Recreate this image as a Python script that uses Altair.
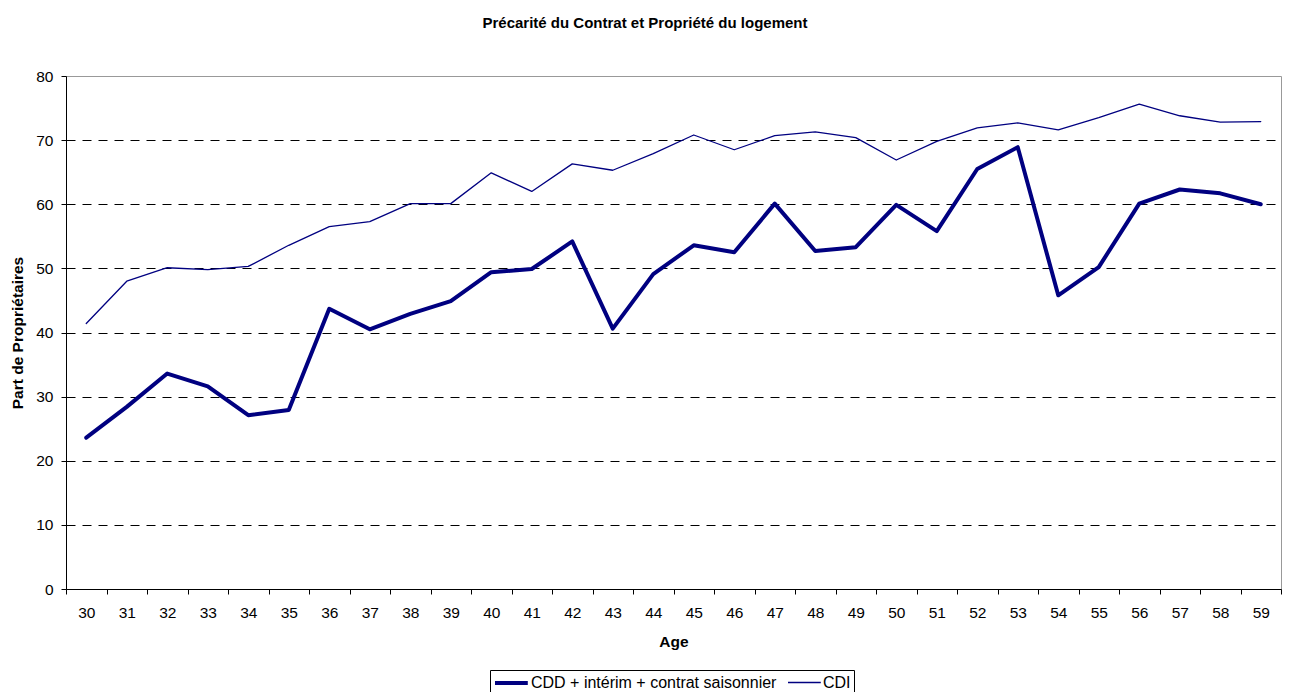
import altair as alt
import pandas as pd

ages = [30, 31, 32, 33, 34, 35, 36, 37, 38, 39,
        40, 41, 42, 43, 44, 45, 46, 47, 48, 49,
        50, 51, 52, 53, 54, 55, 56, 57, 58, 59]
cdd = [23.6, 28.4, 33.6, 31.6, 27.1, 27.9, 43.7, 40.5, 42.9, 44.9,
       49.4, 49.9, 54.2, 40.6, 49.1, 53.6, 52.5, 60.1, 52.7, 53.3,
       59.9, 55.8, 65.5, 68.9, 45.8, 50.2, 60.1, 62.3, 61.7, 60.0]
cdi = [41.4, 48.0, 50.1, 49.8, 50.3, 53.6, 56.5, 57.3, 60.1, 60.1,
       64.9, 62.0, 66.3, 65.3, 67.9, 70.8, 68.5, 70.7, 71.3, 70.4,
       66.9, 69.8, 71.9, 72.7, 71.6, 73.5, 75.6, 73.8, 72.8, 72.9]
series_labels = ["CDD + intérim + contrat saisonnier", "CDI"]
y_ticks = [0, 10, 20, 30, 40, 50, 60, 70, 80]

rows = []
for a, v in zip(ages, cdd):
    rows.append({"Age": a, "value": v, "serie": series_labels[0]})
for a, v in zip(ages, cdi):
    rows.append({"Age": a, "value": v, "serie": series_labels[1]})
df = pd.DataFrame(rows)

FONT = "Liberation Sans"
NAVY = "#000080"

# wide horizontal stroke symbol: path in unit coords scaled by sqrt(size)/2
leg = alt.Legend(
    title=None, orient="none", legendX=424, legendY=594,
    direction="horizontal", symbolType="M-1,0H3.1", symbolSize=256,
    strokeColor="black", fillColor="white", padding=3,
    labelFont=FONT, labelFontSize=16, labelColor="black",
    labelOffset=18, columnPadding=8, labelLimit=500,
)

chart = alt.Chart(df).mark_line(strokeJoin="round", strokeCap="round").encode(
    x=alt.X(
        "Age:O", bandPosition=0.5,
        scale=alt.Scale(type="band", paddingInner=0, paddingOuter=0),
        axis=alt.Axis(
            title="Age", labelAngle=0, tickBand="extent", tickSize=5,
            tickColor="black", domainColor="black", labelColor="black",
            labelFont=FONT, labelFontSize=15.5, labelPadding=11,
            titleFont=FONT, titleFontSize=15.5, titleFontWeight="bold",
            titleColor="black", titlePadding=14, grid=False,
        ),
    ),
    y=alt.Y(
        "value:Q",
        scale=alt.Scale(domain=[0, 80], nice=False),
        axis=alt.Axis(
            title="Part de Propriétaires", values=y_ticks, format="d",
            tickSize=5, tickColor="black", domainColor="black",
            labelColor="black", labelFont=FONT, labelFontSize=15.5,
            labelPadding=8, titleFont=FONT, titleFontSize=15.5,
            titleFontWeight="bold", titleColor="black", titlePadding=10,
            grid=True, gridColor="black", gridDash=[9, 7], gridWidth=1,
            gridOpacity={"condition": {"test": "datum.value == 0 || datum.value == 80", "value": 0}, "value": 1},
        ),
    ),
    color=alt.Color("serie:N", scale=alt.Scale(domain=series_labels, range=[NAVY, NAVY]), legend=leg),
    strokeWidth=alt.StrokeWidth("serie:N", scale=alt.Scale(domain=series_labels, range=[4, 1.3]), legend=leg),
).properties(
    width=1215, height=513,
    title=alt.TitleParams(
        "Précarité du Contrat et Propriété du logement",
        font=FONT, fontSize=15, fontWeight="bold", color="black",
        anchor="middle", frame="group", dx=-28.5, offset=38,
    ),
    padding={"left": 58, "top": 68, "right": 1, "bottom": 103},
    autosize=alt.AutoSizeParams(type="none"),
).configure_view(stroke="#999999", strokeWidth=1)

chart.save("out.html", embed_options={"renderer": "svg", "actions": False})
